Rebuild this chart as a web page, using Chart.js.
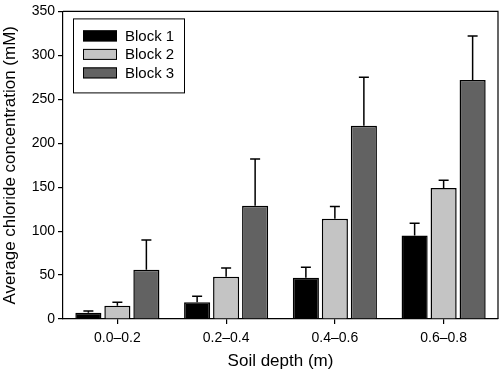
<!DOCTYPE html>
<html>
<head>
<meta charset="utf-8">
<script src="https://cdn.jsdelivr.net/npm/chart.js@4/dist/chart.umd.min.js"></script>
<style>
  html, body { margin: 0; padding: 0; background: #fff; }
  #wrap { width: 500px; height: 372px; }
</style>
</head>
<body>
<div id="wrap"><canvas id="chart" width="500" height="372"></canvas></div>
<script>
const depths = ['0.0–0.2', '0.2–0.4', '0.4–0.6', '0.6–0.8'];
const blockLabels = ['Block 1', 'Block 2', 'Block 3'];
const block1 = [7, 19, 47, 95];
const block2 = [15, 48, 114, 149];
const block3 = [56, 129, 220, 272];
const block1Err = [2, 7, 12, 14];
const block2Err = [4, 10, 14, 9];
const block3Err = [34, 53, 55, 50];
const yTicks = [0, 50, 100, 150, 200, 250, 300, 350];

const fillColors = ['#000000', '#c4c4c4', '#626262'];
const font = 'Liberation Sans, Arial, Helvetica, sans-serif';

// error bars drawn upward only, from the top of each bar
const errorBars = {
    id: 'errorBars',
    afterDatasetsDraw(chart) {
        const ctx = chart.ctx;
        const y = chart.scales.y;
        ctx.save();
        ctx.strokeStyle = '#000';
        ctx.lineWidth = 1.5;
        chart.data.datasets.forEach((ds, i) => {
            const meta = chart.getDatasetMeta(i);
            meta.data.forEach((bar, j) => {
                const top = y.getPixelForValue(ds.data[j] + ds.errors[j]);
                ctx.beginPath();
                ctx.moveTo(bar.x, bar.y);
                ctx.lineTo(bar.x, top);
                ctx.moveTo(bar.x - 5, top);
                ctx.lineTo(bar.x + 5, top);
                ctx.stroke();
            });
        });
        ctx.restore();
    }
};

// box around the plot and the boxed legend in the top-left corner
const frameAndLegend = {
    id: 'frameAndLegend',
    afterDraw(chart) {
        const ctx = chart.ctx;
        const a = chart.chartArea;
        ctx.save();
        ctx.strokeStyle = '#000';
        ctx.lineWidth = 1.2;
        ctx.beginPath();
        ctx.moveTo(a.left, a.top);
        ctx.lineTo(a.right, a.top);
        ctx.lineTo(a.right, a.bottom);
        ctx.stroke();

        const lx = a.left + 10, ly = a.top + 7;
        ctx.lineWidth = 1;
        ctx.strokeRect(lx + 0.5, ly + 0.5, 111, 74);
        ctx.font = '15px ' + font;
        ctx.textBaseline = 'middle';
        ctx.fillStyle = '#000';
        chart.data.datasets.forEach((ds, i) => {
            const sy = ly + 12 + i * 18.5;
            ctx.fillStyle = ds.backgroundColor;
            ctx.fillRect(lx + 10, sy, 34, 11);
            ctx.lineWidth = 1;
            ctx.strokeRect(lx + 10.5, sy + 0.5, 33, 10);
            ctx.fillStyle = '#000';
            ctx.fillText(ds.label, lx + 52, sy + 6);
        });
        ctx.restore();
    }
};

const datasets = [block1, block2, block3].map((vals, i) => ({
    label: blockLabels[i],
    data: vals,
    errors: [block1Err, block2Err, block3Err][i],
    backgroundColor: fillColors[i],
    borderColor: '#000',
    borderWidth: 1.5,
    borderSkipped: 'bottom'
}));

new Chart(document.getElementById('chart'), {
    type: 'bar',
    data: { labels: depths, datasets: datasets },
    options: {
        responsive: false,
        animation: false,
        layout: { padding: { top: 6, right: 2, left: 0, bottom: 0 } },
        plugins: { legend: { display: false }, tooltip: { enabled: false } },
        scales: {
            x: {
                grid: { display: true, drawOnChartArea: false, offset: false, tickLength: 5, color: '#000', lineWidth: 1.2 },
                border: { display: true, color: '#000', width: 1.2 },
                ticks: { color: '#000', font: { family: font, size: 14 }, padding: 6, maxRotation: 0 },
                title: { display: true, text: 'Soil depth (m)', color: '#000', font: { family: font, size: 17 }, padding: { top: 8, bottom: 0 } },
                afterFit: s => { s.height = 53; }
            },
            y: {
                min: 0,
                max: 350,
                afterBuildTicks: s => { s.ticks = yTicks.map(v => ({ value: v })); },
                grid: { display: true, drawOnChartArea: false, tickLength: 5, color: '#000', lineWidth: 1.2 },
                border: { display: true, color: '#000', width: 1.2 },
                ticks: { color: '#000', font: { family: font, size: 14 }, padding: 3 },
                title: { display: true, text: 'Average chloride concentration (mM)', color: '#000', font: { family: font, size: 17 }, padding: { top: 0, bottom: 2 } },
                afterFit: s => { s.width = 63; }
            }
        }
    },
    plugins: [errorBars, frameAndLegend]
});
</script>
</body>
</html>
